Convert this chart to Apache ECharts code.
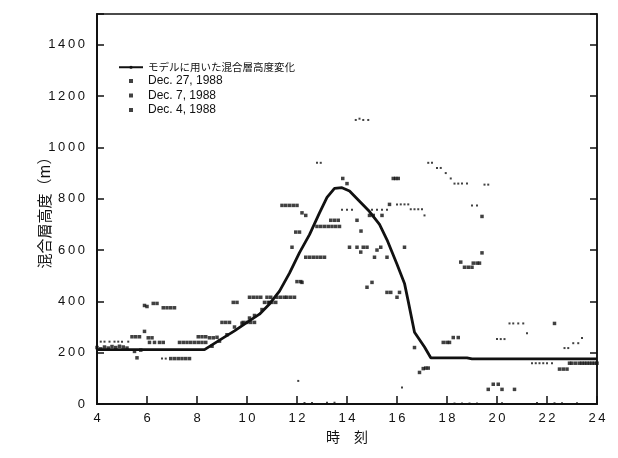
<!DOCTYPE html>
<html>
<head>
<meta charset="utf-8">
<script src="https://cdn.jsdelivr.net/npm/echarts@6/dist/echarts.min.js"></script>
<style>
  html, body { margin: 0; padding: 0; background: #fff; }
  #chart { width: 618px; height: 458px; }
</style>
</head>
<body>
<div id="chart"></div>
<script>
// Mixed-layer height model curve: hour of day vs. height (m)
var modelHours   = [4, 8.3, 9, 9.5, 10, 10.5, 10.9, 11.3, 11.7, 12.1, 12.5, 12.9, 13.2, 13.5, 13.8, 14.1, 14.5, 14.9, 15.3, 15.6, 16.0, 16.3, 16.45, 16.7, 17.1, 17.35, 18.8, 19.0, 24];
var modelHeights = [212, 212, 255, 285, 318, 350, 390, 440, 510, 590, 660, 745, 805, 840, 843, 830, 790, 750, 700, 640, 545, 470, 400, 280, 222, 180, 180, 176, 176];

// Observed mixed-layer heights, [hour, height m]
var dec27 = [
  [5.4,262],[5.55,262],[5.7,262],[5.9,283],[6.05,258],[6.2,258],
  [5.9,384],[6.0,380],[6.25,392],[6.4,392],[6.65,375],[6.8,375],[6.95,375],[7.1,375],
  [6.95,177],[7.1,177],[7.25,177],[7.4,177],[7.55,177],[7.7,177],[5.6,180],
  [6.1,240],[6.3,240],[6.5,240],[6.65,240],
  [7.3,240],[7.45,240],[7.6,240],[7.75,240],[7.9,240],[8.05,240],[8.2,240],[8.35,240],
  [8.05,262],[8.2,262],[8.35,262],[8.5,258],[8.65,258],[8.8,260],
  [11.4,774],[11.55,774],[11.7,774],[11.85,774],[12.0,774],[12.2,745],[12.35,735],
  [12.8,692],[12.95,692],[13.1,692],[13.25,692],[13.4,692],[13.55,692],[13.7,692],
  [13.35,716],[13.5,716],[13.65,716],[11.95,670],[12.1,670],[11.8,611],[12.2,474],
  [13.83,879],[14.0,859],[15.85,879],[15.95,879],[16.05,879],[15.7,778],
  [19.4,731],[19.4,589],[18.55,553],[18.7,533],[18.85,533],[19.0,533],[19.05,549],[19.2,549],[19.3,549],
  [22.3,314],[22.5,136],[22.65,136],[22.8,136],
  [22.9,159],[23.0,159],[23.15,159],[23.3,159],[23.4,159],[23.5,159],[23.6,159],[23.7,159],[23.8,159],[23.9,159],[24.0,159]
];
var dec7 = [
  [4.0,243],[4.15,243],[4.3,243],[4.5,243],[4.7,243],[4.85,243],[5.0,243],[5.25,243],
  [6.6,177],[6.75,177],[12.8,940],[12.95,940],
  [14.35,1107],[14.5,1112],[14.65,1107],[14.85,1107],
  [16.0,778],[16.15,778],[16.3,778],[16.45,778],
  [16.55,759],[16.7,759],[16.85,759],[17.0,759],[17.1,735],
  [13.8,757],[14.0,757],[14.2,757],[15.0,757],[15.2,757],[15.4,757],[15.6,757],
  [17.25,940],[17.4,940],[17.6,920],[17.75,920],[17.95,900],[18.15,879],[18.3,859],[18.45,859],[18.6,859],[18.8,859],[19.5,855],[19.65,855],
  [19.0,774],[19.2,774],
  [20.0,253],[20.15,253],[20.3,253],[20.5,314],[20.65,314],[20.85,314],[21.05,314],[21.2,276],
  [21.4,159],[21.55,159],[21.7,159],[21.85,159],[22.0,159],[22.2,159],
  [22.7,218],[22.85,218],[23.05,237],[23.25,237],[23.4,257],
  [16.2,64],[12.05,90],
  [12.3,4],[12.6,4],[13.2,5],[13.5,5],[18.3,2],[18.6,2],[18.9,2],[19.2,2],[20.2,3],[21.6,4],[22.3,3],[22.6,3],[23.2,3]
];
var dec4 = [
  [4.0,220],[4.15,215],[4.3,222],[4.45,218],[4.6,224],[4.75,220],[4.9,225],[5.05,222],[5.2,218],[5.5,205],[5.75,210],
  [8.6,225],[8.9,245],[9.2,270],[9.5,300],[9.8,315],[10.1,335],[10.3,345],[10.6,368],[10.9,395],
  [9.0,318],[9.15,318],[9.3,318],[9.85,318],[10.0,318],[10.15,318],[10.3,318],
  [9.45,396],[9.6,396],[10.7,396],[10.85,396],[11.0,396],[11.15,396],
  [10.1,416],[10.25,416],[10.4,416],[10.55,416],[10.8,416],[10.95,416],[11.2,416],[11.35,416],[11.5,416],[11.6,416],[11.75,416],[11.9,416],
  [12.0,477],[12.15,477],
  [12.35,572],[12.5,572],[12.65,572],[12.8,572],[12.95,572],[13.1,572],
  [14.4,716],[14.9,735],[15.05,735],[15.4,735],[14.56,674],
  [14.1,611],[14.4,611],[14.65,611],[14.8,611],[14.55,592],[15.2,600],[15.35,611],[15.1,572],[15.6,572],[16.3,611],
  [15.0,474],[14.8,455],[15.6,435],[15.75,435],[16.1,435],[16.0,416],
  [16.7,220],[17.85,240],[18.0,240],[18.1,240],[18.25,259],[18.45,259],
  [17.05,138],[17.15,140],[17.25,140],[16.9,123],
  [19.65,57],[19.85,77],[20.05,77],[20.2,57],[20.7,57]
];

var xTicks = { min: 4, max: 24, step: 2 };
var yTicks = { min: 0, max: 1520, step: 200 };

var legendNames = ['モデルに用いた混合層高度変化', 'Dec. 27, 1988', 'Dec. 7, 1988', 'Dec. 4, 1988'];

function spaced(v) {
  return String(v).split('').join('\u2009');
}

var modelData = modelHours.map(function (h, i) { return [h, modelHeights[i]]; });
var ink = '#111';
var sq = 'path://M0,0h10v10h-10z';

var chart = echarts.init(document.getElementById('chart'), null, { renderer: 'canvas' });
chart.setOption({
  animation: false,
  backgroundColor: '#fff',
  textStyle: { fontFamily: 'Liberation Sans, Arial, sans-serif', color: ink },
  grid: { left: 97, right: 21, top: 14, bottom: 54, show: true, borderColor: ink, borderWidth: 1.5, backgroundColor: 'transparent' },
  legend: {
    left: 113, top: 57, orient: 'vertical',
    itemWidth: 24, itemHeight: 4, itemGap: 2.5,
    textStyle: { fontSize: 12, color: ink, fontFamily: 'Liberation Sans, "Noto Sans CJK JP", sans-serif' },
    data: [
      { name: legendNames[0], textStyle: { fontSize: 10.5, fontFamily: '"Noto Sans CJK JP", sans-serif' } },
      { name: legendNames[1], icon: sq },
      { name: legendNames[2], icon: sq },
      { name: legendNames[3], icon: sq }
    ]
  },
  xAxis: [{
    type: 'value', min: xTicks.min, max: xTicks.max, interval: xTicks.step,
    name: '時　刻', nameLocation: 'middle', nameGap: 26, nameMoveOverlap: false,
    nameTextStyle: { fontSize: 14, color: ink, fontFamily: '"Noto Sans CJK JP", sans-serif' },
    axisLine: { lineStyle: { color: ink, width: 2 } },
    axisTick: { inside: true, length: 8, lineStyle: { color: ink, width: 1.5 } },
    axisLabel: { margin: 8, fontSize: 13, color: ink, formatter: spaced },
    splitLine: { show: false }
  }],
  yAxis: [{
    type: 'value', min: yTicks.min, max: yTicks.max, interval: yTicks.step,
    name: '混合層高度（m）', nameLocation: 'middle', nameGap: 45, nameMoveOverlap: false,
    nameTextStyle: { fontSize: 15, color: ink, fontFamily: '"Noto Sans CJK JP", sans-serif' },
    axisLine: { show: true, lineStyle: { color: ink, width: 2 } },
    axisTick: { inside: true, length: 7, lineStyle: { color: ink, width: 1.5 } },
    axisLabel: {
      margin: 12, fontSize: 13, color: ink,
      formatter: function (v) { return v % yTicks.step === 0 ? spaced(v) : ''; }
    },
    splitLine: { show: false }
  }, {
    type: 'value', position: 'right', min: yTicks.min, max: yTicks.max, interval: yTicks.step,
    axisLine: { show: true, lineStyle: { color: ink, width: 1.5 } },
    axisTick: { inside: true, length: 7, lineStyle: { color: ink, width: 1.5 } },
    axisLabel: { show: false }, splitLine: { show: false }
  }],
  series: [{
    name: legendNames[0], type: 'line', data: modelData,
    symbol: 'none', lineStyle: { color: ink, width: 2.8 }, itemStyle: { color: ink }, z: 3
  }, {
    name: legendNames[1], type: 'scatter', data: dec27,
    symbol: 'rect', symbolSize: 3.5, itemStyle: { color: ink }
  }, {
    name: legendNames[2], type: 'scatter', data: dec7,
    symbol: 'rect', symbolSize: 2, itemStyle: { color: ink }
  }, {
    name: legendNames[3], type: 'scatter', data: dec4,
    symbol: 'rect', symbolSize: 3.5, itemStyle: { color: ink }
  }]
});
</script>
</body>
</html>
